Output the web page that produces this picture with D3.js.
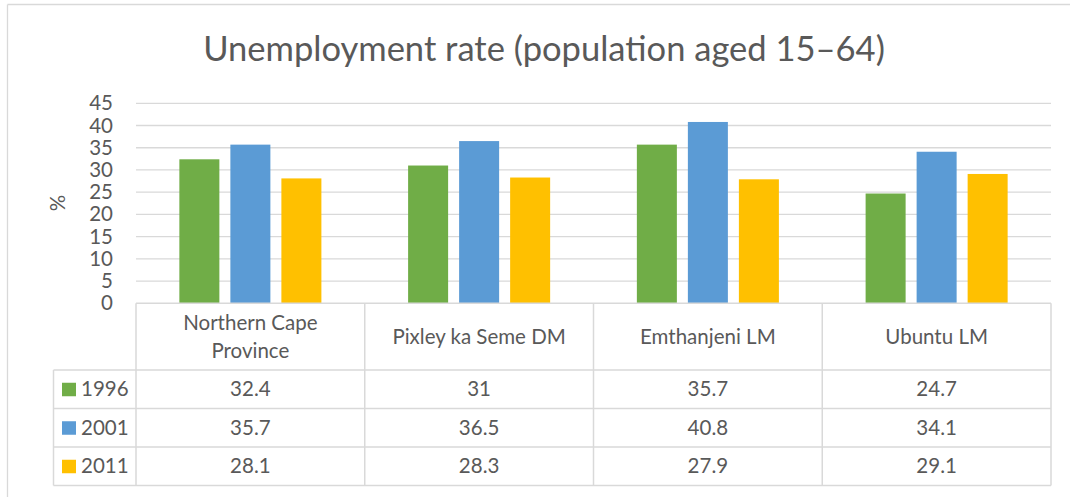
<!DOCTYPE html>
<html>
<head>
<meta charset="utf-8">
<script src="https://cdn.jsdelivr.net/npm/d3@7"></script>
<style>
    html, body { margin: 0; padding: 0; background: #fff; }
    svg text { font-family: Lato, "Open Sans", sans-serif; fill: #595959; }
</style>
</head>
<body>
<svg id="chart" width="1070" height="497"></svg>
<script>
// data
var categories = ["Northern Cape Province", "Pixley ka Seme DM", "Emthanjeni LM", "Ubuntu LM"];
var categoryLines = [["Northern Cape", "Province"], ["Pixley ka Seme DM"], ["Emthanjeni LM"], ["Ubuntu LM"]];
var series = ["1996", "2001", "2011"];
var values1996 = [32.4, 31, 35.7, 24.7];
var values2001 = [35.7, 36.5, 40.8, 34.1];
var values2011 = [28.1, 28.3, 27.9, 29.1];
var yTicks = [0, 5, 10, 15, 20, 25, 30, 35, 40, 45];
var colors = ["#70AD47", "#5B9BD5", "#FFC000"];
var title = "Unemployment rate (population aged 15\u201364)";

var seriesValues = [values1996, values2001, values2011];

var svg = d3.select("#chart");
var gridColor = "#D9D9D9";
var labelSize = "20.5px";

var plot = {left: 136, right: 1051, top: 103.3, bottom: 303.3};

var x = d3.scaleBand()
    .domain(categories)
    .range([plot.left, plot.right]);

var xSub = d3.scaleBand()
    .domain(series)
    .range([0, x.bandwidth()])
    .paddingInner(0.2157)
    .paddingOuter(0.85);

var y = d3.scaleLinear()
    .domain([0, 45])
    .range([plot.bottom, plot.top]);

// outer chart border (top and left visible)
svg.append("line")
    .attr("x1", 7.5).attr("x2", 1070).attr("y1", 4.5).attr("y2", 4.5)
    .attr("stroke", gridColor).attr("stroke-width", 1.3);
svg.append("line")
    .attr("x1", 7.5).attr("x2", 7.5).attr("y1", 4.5).attr("y2", 497)
    .attr("stroke", gridColor).attr("stroke-width", 1.3);

// title, fitted to the reference width
var titleText = svg.append("text")
    .attr("x", 544)
    .attr("y", 60.5)
    .attr("text-anchor", "middle")
    .style("font-size", "34px")
    .text(title);
var tw = titleText.node().getComputedTextLength();
titleText.style("font-size", (34 * 682 / tw) + "px");

// gridlines
svg.append("g")
    .selectAll("line")
    .data(yTicks.filter(function(d) { return d > 0; }))
    .enter().append("line")
    .attr("x1", plot.left).attr("x2", plot.right)
    .attr("y1", function(d) { return y(d); })
    .attr("y2", function(d) { return y(d); })
    .attr("stroke", gridColor)
    .attr("stroke-width", 1.3);

// y axis
var yAxis = svg.append("g")
    .attr("transform", "translate(" + plot.left + ",0)")
    .call(d3.axisLeft(y).tickValues(yTicks).tickSize(0).tickPadding(23));
yAxis.select(".domain").remove();
yAxis.selectAll("text")
    .style("font-size", labelSize)
    .attr("fill", "#595959")
    .attr("font-family", null);
yAxis.attr("font-family", null).attr("font-size", null);

svg.append("text")
    .attr("transform", "translate(65,203) rotate(-90)")
    .attr("text-anchor", "middle")
    .style("font-size", labelSize)
    .text("%");

// bars
var groups = svg.append("g")
    .selectAll("g")
    .data(categories)
    .enter().append("g")
    .attr("transform", function(d) { return "translate(" + x(d) + ",0)"; });

groups.selectAll("rect")
    .data(function(d, i) {
        return series.map(function(s, j) { return {series: s, value: seriesValues[j][i], color: colors[j]}; });
    })
    .enter().append("rect")
    .attr("x", function(d) { return xSub(d.series); })
    .attr("width", xSub.bandwidth())
    .attr("y", function(d) { return y(d.value); })
    .attr("height", function(d) { return y(0) - y(d.value); })
    .attr("fill", function(d) { return d.color; });

// data table
var headerBottom = 370;
var tableBottom = 485.5;
var legendLeft = 53.5;

var rows = d3.scaleBand()
    .domain(series)
    .range([headerBottom, tableBottom]);

var table = svg.append("g")
    .attr("stroke", gridColor)
    .attr("stroke-width", 1.5);

// horizontal rules
table.append("line")
    .attr("x1", plot.left).attr("x2", plot.right)
    .attr("y1", plot.bottom).attr("y2", plot.bottom);
table.selectAll(".hrow")
    .data(series)
    .enter().append("line")
    .attr("x1", legendLeft).attr("x2", plot.right)
    .attr("y1", function(d) { return rows(d); })
    .attr("y2", function(d) { return rows(d); });
table.append("line")
    .attr("x1", legendLeft).attr("x2", plot.right)
    .attr("y1", tableBottom).attr("y2", tableBottom);

// vertical rules
var colEdges = categories.map(function(c) { return x(c); }).concat([plot.right]);
table.selectAll(".vcol")
    .data(colEdges)
    .enter().append("line")
    .attr("x1", function(d) { return d; }).attr("x2", function(d) { return d; })
    .attr("y1", plot.bottom).attr("y2", tableBottom);
table.append("line")
    .attr("x1", legendLeft).attr("x2", legendLeft)
    .attr("y1", headerBottom).attr("y2", tableBottom);

// category headers
var headerMid = (plot.bottom + headerBottom) / 2;
categories.forEach(function(c, i) {
    var lines = categoryLines[i];
    var t = svg.append("text")
        .attr("text-anchor", "middle")
        .style("font-size", labelSize);
    lines.forEach(function(l, k) {
        t.append("tspan")
            .attr("x", x(c) + x.bandwidth() / 2)
            .attr("y", headerMid + (k - (lines.length - 1) / 2) * 28.5)
            .attr("dy", "0.35em")
            .text(l);
    });
});

// legend keys and row labels
var legendRows = svg.append("g")
    .selectAll("g")
    .data(series)
    .enter().append("g")
    .attr("transform", function(d) { return "translate(0," + (rows(d) + rows.bandwidth() / 2) + ")"; });

legendRows.append("rect")
    .attr("x", 62).attr("y", -6.5)
    .attr("width", 14).attr("height", 13.5)
    .attr("fill", function(d, i) { return colors[i]; });

legendRows.append("text")
    .attr("x", 81)
    .attr("dy", "0.35em")
    .style("font-size", labelSize)
    .text(function(d) { return d; });

// values
legendRows.each(function(s, j) {
    d3.select(this).selectAll(".val")
        .data(seriesValues[j])
        .enter().append("text")
        .attr("x", function(d, i) { return x(categories[i]) + x.bandwidth() / 2; })
        .attr("dy", "0.35em")
        .attr("text-anchor", "middle")
        .style("font-size", labelSize)
        .text(function(d) { return d; });
});
</script>
</body>
</html>
